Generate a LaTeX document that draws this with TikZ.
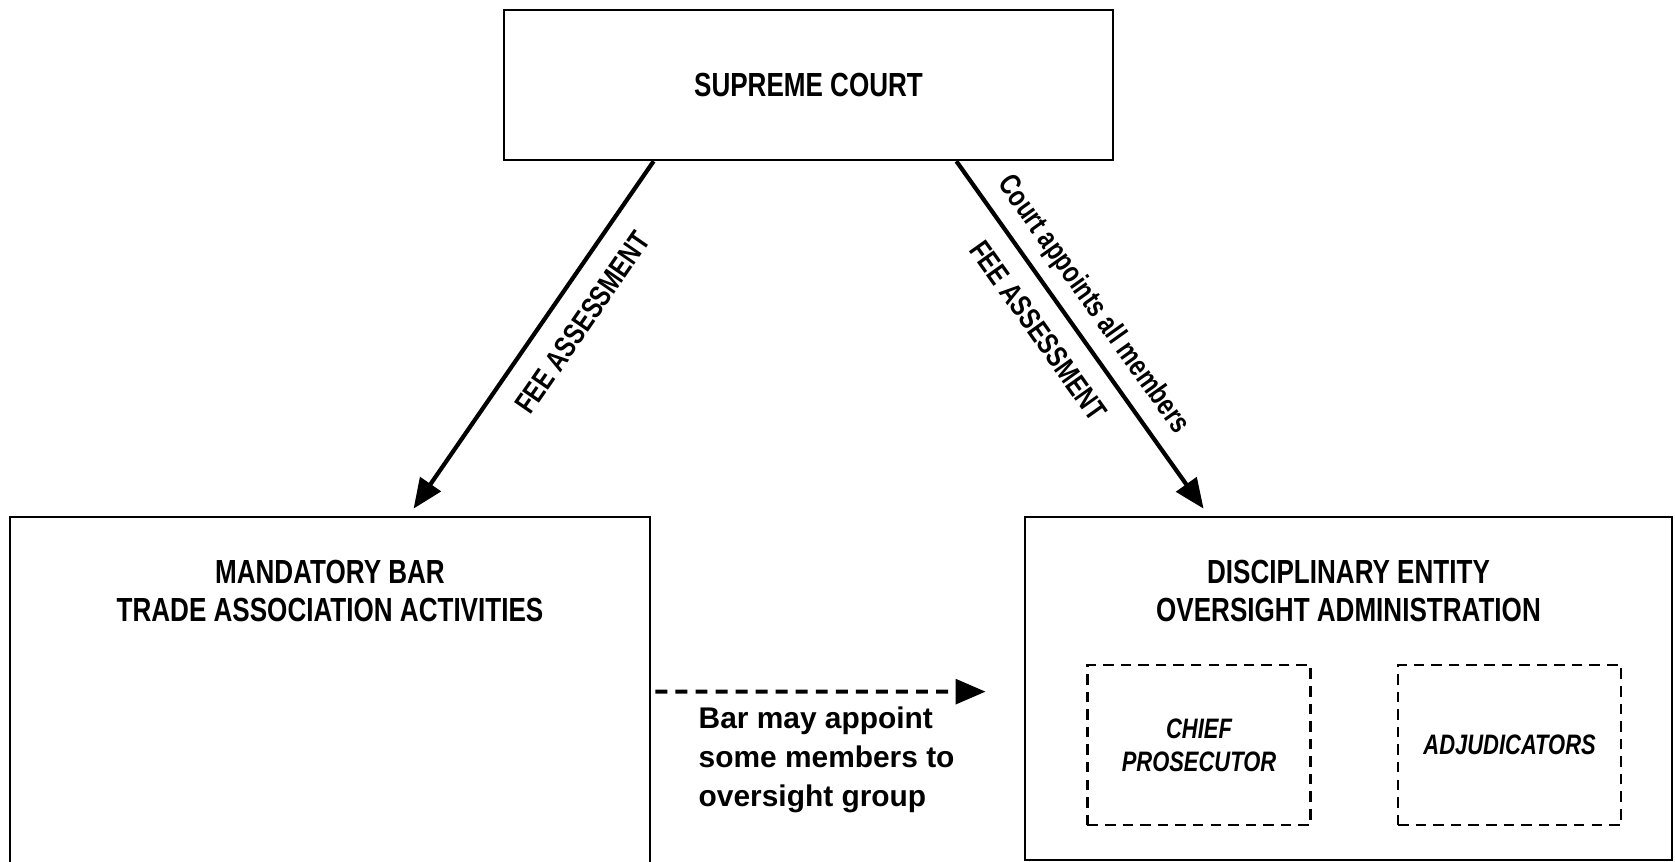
\documentclass[tikz,border=0pt]{standalone}
\usepackage{fontspec}
\setmainfont{Liberation Sans}
\newfontfamily\narrow{Liberation Sans}[FakeStretch=0.78]
\usetikzlibrary{arrows.meta,positioning,calc}

\begin{document}
\begin{tikzpicture}[x=0.01cm,y=-0.01cm,>={Triangle[length=8.5pt,width=7pt]},
    box/.style={rectangle,draw,line width=0.7pt},
    title/.style={align=center,font=\narrow\bfseries\fontsize{9.5}{10.8}\selectfont},
    office/.style={rectangle,draw,line width=0.7pt,dash pattern=on 3pt off 2pt,minimum width=2.23cm,minimum height=1.6cm,align=center,font=\narrow\bfseries\itshape\fontsize{8}{9.4}\selectfont},
    note/.style={align=left,inner sep=0pt,font=\bfseries\fontsize{8.5}{11.1}\selectfont},
    link/.style={->,line width=1.2pt},
    tag/.style={sloped,font=\narrow\bfseries\fontsize{8.5}{9}\selectfont}]

    \useasboundingbox (0,0) rectangle (1675,862);

    % the court on top
    \node[box,title,minimum width=6.09cm,minimum height=1.5cm] (sc) at (808.5,85) {SUPREME COURT};

    % the two bodies below
    \node[box,minimum width=6.4cm,minimum height=3.83cm] (mb) at (330,708.5) {};
    \node[title] (mbt) [below=0.32cm of mb.north] {MANDATORY BAR\\TRADE ASSOCIATION ACTIVITIES};

    \node[box,minimum width=6.47cm,minimum height=3.43cm] (de) at (1348.5,688.5) {};
    \node[title] (det) [below=0.32cm of de.north] {DISCIPLINARY ENTITY\\OVERSIGHT ADMINISTRATION};
    \node[office] (cp) at (1199,745) {CHIEF\\PROSECUTOR};
    \node[office] (adj) [right=0.85cm of cp] {ADJUDICATORS};

    \node[note,anchor=north west] (bar) at (698,706) {Bar may appoint\\some members to\\oversight group};

    \coordinate (scl) at ($(sc.south west)+(151,0)$);
    \coordinate (scr) at ($(sc.south east)+(-158,0)$);
    \coordinate (mbl) at ($(mb.north west)+(405,-7)$);
    \coordinate (der) at ($(de.north west)+(180,-7)$);
    \coordinate (bs) at ($(mb.north east)+(4,176)$);
    \coordinate (be) at ($(de.north west)+(-38,176)$);

    \path[link]
        (scl) edge node[tag,below=2.5pt,pos=0.41] {FEE ASSESSMENT} (mbl)
        (scr) edge node[tag,above,pos=0.46] {Court appoints all members}
                   node[tag,below=2pt,pos=0.435] {FEE ASSESSMENT} (der)
    ;

    \path (bs) edge[link,line width=1.1pt,dash pattern=on 3.4pt off 2.3pt] (be);
\end{tikzpicture}
\end{document}
